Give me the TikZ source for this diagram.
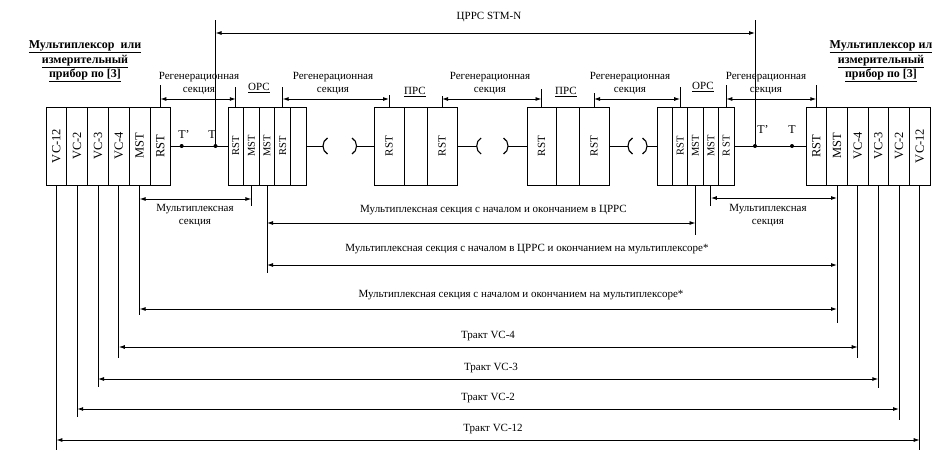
\documentclass[tikz,border=0pt]{standalone}
\usepackage{fontspec}
\setmainfont{Liberation Serif}
\usepackage{graphicx}
\usetikzlibrary{arrows.meta}
\newcommand\mkcol[5]{\node[col, minimum width=#3pt, font=\fontsize{#5}{#5}\selectfont] (#1) at (#2,146) {\rotatebox{90}{#4}};}
\begin{document}
\begin{tikzpicture}[x=1pt,y=-1pt,
  col/.style={draw, line width=0.9pt, minimum height=78pt, inner sep=0pt},
  ln/.style={line width=0.9pt},
  dim/.style={line width=0.9pt, {Latex[length=6pt,width=4pt]}-{Latex[length=6pt,width=4pt]}},
  lbl/.style={font=\fontsize{11}{13}\selectfont, align=center, inner sep=0pt},
  ttl/.style={font=\fontsize{12}{14.5}\selectfont\bfseries, align=center, inner sep=0pt},
  dot/.style={circle, fill, inner sep=0pt, minimum size=4pt},
]
\useasboundingbox[fill=white] (0,0) rectangle (945,460);

% titles
\node[ttl] (ttlL) at (85,61.5) {\underline{Мультиплексор\ \ или}\\\underline{измерительный}\\\underline{прибор по [3]}};
\node[ttl] (ttlR) at (881,61.5) {\underline{Мультиплексор ил}\\\underline{измерительный}\\\underline{прибор по [3]}};

% left multiplexer
\mkcol{a1}{56.4}{20.8}{VC-12}{12.5}
\mkcol{a2}{77.2}{20.8}{VC-2}{12.5}
\mkcol{a3}{98.0}{20.8}{VC-3}{12.5}
\mkcol{a4}{118.8}{20.8}{VC-4}{12.5}
\mkcol{a5}{139.6}{20.8}{MST}{12.5}
\mkcol{a6}{160.4}{20.8}{RST}{12.5}
% left ORS
\mkcol{b1}{235.8}{15.6}{RST}{10.5}
\mkcol{b2}{251.4}{15.6}{MST}{10.5}
\mkcol{b3}{267.0}{15.6}{MST}{10.5}
\mkcol{b4}{282.6}{15.6}{RST}{10.5}
\mkcol{b5}{298.2}{15.6}{}{10.5}
% PRS 1
\mkcol{c1}{389}{30}{RST}{11}
\mkcol{c2}{415.5}{23}{}{11}
\mkcol{c3}{442}{30}{RST}{11}
% PRS 2
\mkcol{d1}{541.5}{29}{RST}{11}
\mkcol{d2}{567.5}{23}{}{11}
\mkcol{d3}{594}{30}{RST}{11}
% right ORS
\mkcol{e1}{664.7}{15.4}{}{10.5}
\mkcol{e2}{680.1}{15.4}{RST}{10.5}
\mkcol{e3}{695.5}{15.4}{MST}{10.5}
\mkcol{e4}{710.9}{15.4}{MST}{10.5}
\mkcol{e5}{726.3}{15.4}{R ST}{10.5}
% right multiplexer
\mkcol{f1}{816.3}{20.67}{RST}{12.5}
\mkcol{f2}{837.0}{20.67}{MST}{12.5}
\mkcol{f3}{857.7}{20.67}{VC-4}{12.5}
\mkcol{f4}{878.3}{20.67}{VC-3}{12.5}
\mkcol{f5}{899.0}{20.67}{VC-2}{12.5}
\mkcol{f6}{919.7}{20.67}{VC-12}{12.5}

% station labels
\node[lbl] (lORS1) at (259,88) {\underline{ОРС}};
\node[lbl] (lPRS1) at (415,92) {\underline{ПРС}};
\node[lbl] (lPRS2) at (566,92) {\underline{ПРС}};
\node[lbl] (lORS2) at (703,87) {\underline{ОРС}};

% line with T points (left)
\draw[ln] (a6.east) -- (b1.west);
\node[dot] (tpL) at (181.7,146) {};
\node[dot] (tL) at (215.5,146) {};
\node[lbl, font=\fontsize{12}{12}\selectfont] (ltpL) at (184,135) {T'};
\node[lbl, font=\fontsize{12}{12}\selectfont] (ltL) at (212,135) {T};
% right
\draw[ln] (e5.east) -- (f1.west);
\node[dot] (tpR) at (755,146) {};
\node[dot] (tR) at (792,146) {};
\node[lbl, font=\fontsize{12}{12}\selectfont] (ltpR) at (763,130) {T'};
\node[lbl, font=\fontsize{12}{12}\selectfont] (ltR) at (792,130) {T};

% STM-N span
\coordinate (topL) at (215.5,20);
\coordinate (topR) at (755,20);
\draw[ln] (tL.center) -- (topL);
\draw[ln] (tpR.center) -- (topR);
\draw[dim] (215.5,33) -- (755,33);
\node[lbl] (lstm) at (489,17) {ЦРРС STM-N};

% parentheses and links
\coordinate (p1a) at (323,146); \coordinate (p1b) at (356.5,146);
\coordinate (p2a) at (476.7,146); \coordinate (p2b) at (508,146);
\coordinate (p3a) at (628,146); \coordinate (p3b) at (647,146);
\draw[ln] (b5.east) -- (p1a);
\draw[ln] (p1b) -- (c1.west);
\draw[ln] (c3.east) -- (p2a);
\draw[ln] (p2b) -- (d1.west);
\draw[ln] (d3.east) -- (p3a);
\draw[ln] (p3b) -- (e1.west);
\foreach \p in {p1a,p2a,p3a}{
  \draw[line width=1.1pt] ([shift={(4.5,-8)}]\p) .. controls ([shift={(-1.5,-5)}]\p) and ([shift={(-1.5,5)}]\p) .. ([shift={(4.5,8)}]\p);
}
\foreach \p in {p1b,p2b,p3b}{
  \draw[line width=1.1pt] ([shift={(-4.5,-8)}]\p) .. controls ([shift={(1.5,-5)}]\p) and ([shift={(1.5,5)}]\p) .. ([shift={(-4.5,8)}]\p);
}

% regeneration sections
\draw[ln] (a6.north) -- (a6.north |- 0,85);
\draw[ln] (b1.north) -- (b1.north |- 0,87);
\draw[ln] (b4.north) -- (b4.north |- 0,87);
\draw[ln] (c1.north) -- (c1.north |- 0,95);
\draw[ln] (c3.north) -- (c3.north |- 0,96);
\draw[ln] (d1.north) -- (d1.north |- 0,89);
\draw[ln] (d3.north) -- (d3.north |- 0,93);
\draw[ln] (e2.north) -- (e2.north |- 0,87);
\draw[ln] (e5.north) -- (e5.north |- 0,85);
\draw[ln] (f1.north) -- (f1.north |- 0,85);
\draw[dim] (a6.north |- 0,99) -- (b1.north |- 0,99);
\draw[dim] (b4.north |- 0,99) -- (c1.north |- 0,99);
\draw[dim] (c3.north |- 0,99) -- (d1.north |- 0,99);
\draw[dim] (d3.north |- 0,99) -- (e2.north |- 0,99);
\draw[dim] (e5.north |- 0,99) -- (f1.north |- 0,99);
\node[lbl] (rg1) at (199,83.5) {Регенерационная\\секция};
\node[lbl] (rg2) at (333,83.5) {Регенерационная\\секция};
\node[lbl] (rg3) at (490,83.5) {Регенерационная\\секция};
\node[lbl] (rg4) at (630,83.5) {Регенерационная\\секция};
\node[lbl] (rg5) at (766,83.5) {Регенерационная\\секция};

% vertical drop lines
\draw[ln] (a1.south) -- (a1.south |- 0,450);
\draw[ln] (a2.south) -- (a2.south |- 0,417);
\draw[ln] (a3.south) -- (a3.south |- 0,387);
\draw[ln] (a4.south) -- (a4.south |- 0,358);
\draw[ln] (a5.south) -- (a5.south |- 0,315);
\draw[ln] (b2.south) -- (b2.south |- 0,206);
\draw[ln] (b3.south) -- (b3.south |- 0,273);
\draw[ln] (e3.south) -- (e3.south |- 0,235);
\draw[ln] (e4.south) -- (e4.south |- 0,206);
\draw[ln] (f2.south) -- (f2.south |- 0,323);
\draw[ln] (f3.south) -- (f3.south |- 0,358);
\draw[ln] (f4.south) -- (f4.south |- 0,388);
\draw[ln] (f5.south) -- (f5.south |- 0,420);
\draw[ln] (f6.south) -- (f6.south |- 0,450);

% multiplex sections and paths
\draw[dim] (a5.south |- 0,199) -- (b2.south |- 0,199);
\draw[dim] (e4.south |- 0,198) -- (f2.south |- 0,198);
\draw[dim] (b3.south |- 0,223) -- (e3.south |- 0,223);
\draw[dim] (b3.south |- 0,265) -- (f2.south |- 0,265);
\draw[dim] (a5.south |- 0,309) -- (f2.south |- 0,309);
\draw[dim] (a4.south |- 0,347) -- (f3.south |- 0,347);
\draw[dim] (a3.south |- 0,379) -- (f4.south |- 0,379);
\draw[dim] (a2.south |- 0,409) -- (f5.south |- 0,409);
\draw[dim] (a1.south |- 0,440) -- (f6.south |- 0,440);

\node[lbl] (ms1) at (195,215.5) {Мультиплексная\\секция};
\node[lbl] (ms2) at (768,215) {Мультиплексная\\секция};
\node[lbl] (ms3) at (493.5,210) {Мультиплексная секция с началом и окончанием в ЦРРС};
\node[lbl] (ms4) at (527,249) {Мультиплексная секция с началом в ЦРРС и окончанием на мультиплексоре*};
\node[lbl] (ms5) at (521,295) {Мультиплексная секция с началом и окончанием на мультиплексоре*};
\node[lbl] (tr4) at (488,336) {Тракт VC-4};
\node[lbl] (tr3) at (491,368) {Тракт VC-3};
\node[lbl] (tr2) at (488,398) {Тракт VC-2};
\node[lbl] (tr12) at (493,429) {Тракт VC-12};
\end{tikzpicture}
\end{document}
